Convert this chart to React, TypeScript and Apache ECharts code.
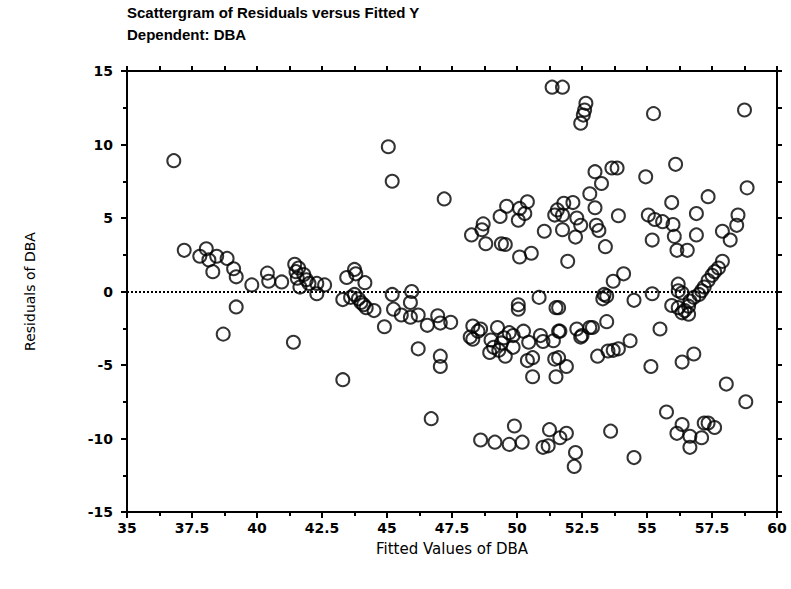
import React, { useEffect, useRef } from "react";
import * as echarts from "echarts";

const titleLines = ["Scattergram of Residuals versus Fitted Y", "Dependent: DBA"];
const xAxisName = "Fitted Values of DBA";
const yAxisName = "Residuals of DBA";
const xTickLabels = ["35", "37.5", "40", "42.5", "45", "47.5", "50", "52.5", "55", "57.5", "60"];
const yTickLabels = ["-15", "-10", "-5", "0", "5", "10", "15"];

const fitted: number[] = [
  36.8, 37.2, 37.8, 38.05, 38.15, 38.45, 38.85, 38.3, 39.1, 39.2, 39.8, 40.4, 40.45, 40.95, 41.45, 41.5, 41.55, 41.8, 41.65, 42.0, 42.3, 42.6, 42.3, 41.6, 41.9, 39.2, 38.7, 41.4, 43.3,
  43.45, 43.75, 43.8, 44.15, 43.3, 43.6, 43.75, 44.0, 44.2, 44.5, 43.9, 44.1, 44.9, 45.2, 45.95, 45.25, 45.55, 45.9, 45.9, 46.2, 46.55, 46.95, 47.05, 47.45, 46.2, 47.05, 47.05, 46.7,
  45.05, 45.2, 47.2,
  48.25, 48.7, 48.65, 48.8, 49.35, 49.4, 49.55, 49.6, 50.1, 50.4, 50.3, 50.05, 50.1, 50.55, 51.05, 51.45, 51.35, 51.75,
  52.65, 52.6, 52.55, 52.45, 55.25, 58.75,
  51.8, 52.15, 51.75, 52.3, 51.75, 52.25, 52.45, 53.05, 53.15, 53.4, 53.9, 51.95, 53.0, 53.25, 53.65, 53.85, 52.8, 53.0, 51.55,
  54.95, 56.1, 55.95, 55.05, 55.3, 55.6, 56.0, 55.2, 56.05, 56.15, 56.55, 56.9, 56.9, 57.35, 58.85, 58.5, 58.45, 57.9, 58.2,
  57.9, 57.75, 57.5, 57.35, 57.2, 57.0, 56.8, 56.65, 56.6, 56.45, 56.2, 55.95, 56.2, 56.2, 56.35, 56.6, 56.35, 57.6, 57.1,
  54.1, 53.7, 53.35, 53.3, 53.45, 54.5, 55.2, 53.45, 52.9, 52.3, 52.5, 51.6, 55.5,
  50.05, 50.05, 50.85, 51.5, 51.6,
  48.3, 48.3, 48.6, 48.2, 49.25, 49.5, 49.1, 48.95, 49.3, 49.55, 49.85, 50.25, 49.85, 50.45, 50.4, 50.6, 50.6, 50.9, 51.0, 51.4, 51.45, 51.5, 51.9, 51.6, 51.65, 52.45, 52.8, 49.7, 48.5, 49.0, 49.4,
  53.1, 53.5, 53.7, 53.9, 54.35, 55.15, 56.35, 56.8,
  48.6, 49.15, 49.7, 50.2, 49.9, 51.0, 51.2, 51.25, 51.9, 51.65, 52.25, 52.2, 53.6, 54.5, 55.75, 56.35, 56.15, 56.65, 56.65, 57.1, 57.2, 57.35, 57.6, 58.05, 58.8,
];

const residuals: number[] = [
  8.9, 2.8, 2.4, 2.9, 2.15, 2.4, 2.25, 1.35, 1.55, 1.0, 0.45, 1.25, 0.7, 0.65, 1.85, 1.35, 0.9, 1.15, 0.3, 0.55, 0.55, 0.45, -0.15, 1.6, 0.8, -1.05, -2.9, -3.45, -6.0,
  0.95, 1.5, 1.2, 0.6, -0.55, -0.4, -0.2, -0.75, -1.1, -1.3, -0.5, -0.9, -2.4, -0.2, 0.0, -1.2, -1.6, -0.75, -1.75, -1.6, -2.3, -1.65, -2.15, -2.1, -3.9, -4.4, -5.1, -8.65,
  9.85, 7.5, 6.3,
  3.85, 4.6, 4.2, 3.25, 5.1, 3.25, 3.2, 5.8, 5.65, 6.1, 5.3, 4.85, 2.35, 2.6, 4.1, 5.2, 13.9, 13.9,
  12.8, 12.35, 12.0, 11.45, 12.1, 12.35,
  6.0, 6.05, 5.2, 5.0, 4.2, 3.7, 4.5, 4.5, 4.15, 3.05, 5.15, 2.05, 8.15, 7.35, 8.4, 8.4, 6.65, 5.7, 5.55,
  7.8, 8.65, 6.05, 5.2, 4.9, 4.75, 4.55, 3.5, 3.75, 2.8, 2.8, 3.85, 5.3, 6.45, 7.05, 5.2, 4.5, 4.1, 3.5,
  2.05, 1.6, 1.1, 0.75, 0.3, -0.2, -0.4, -0.65, -1.55, -1.3, -1.1, -0.95, 0.5, 0.05, -0.1, -1.0, -1.45, 1.35, 0.05,
  1.2, 0.7, -0.2, -0.5, -0.3, -0.6, -0.15, -2.05, -2.45, -2.55, -3.0, -2.7, -2.55,
  -0.9, -1.2, -0.4, -1.1, -1.1,
  -2.35, -3.25, -2.55, -3.1, -2.45, -3.15, -3.8, -4.15, -4.0, -4.4, -3.8, -2.7, -3.0, -3.45, -4.7, -4.5, -5.8, -3.0, -3.4, -3.35, -4.6, -5.8, -5.1, -4.5, -2.7, -3.1, -2.45, -2.8, -2.7, -3.3, -3.5,
  -4.4, -4.05, -4.0, -3.9, -3.35, -5.1, -4.8, -4.25,
  -10.1, -10.25, -10.4, -10.25, -9.15, -10.6, -10.5, -9.4, -9.65, -9.95, -10.95, -11.9, -9.5, -11.3, -8.2, -9.05, -9.65, -9.85, -10.6, -9.95, -8.95, -8.95, -9.25, -6.3, -7.5,
];

const FONT = "'Liberation Sans', Arial, Helvetica, sans-serif";
const WIDE = "'DejaVu Sans', Verdana, sans-serif";

export default function App() {
  const ref = useRef<HTMLDivElement>(null);
  useEffect(() => {
    if (!ref.current) return;
    const chart = echarts.init(ref.current, undefined, { renderer: "svg" });
    const points = fitted.map((x, i) => [x, residuals[i]]);
    const axisLineStyle = { color: "#000", width: 2 };
    chart.setOption({
      animation: false,
      backgroundColor: "#fff",
      textStyle: { fontFamily: FONT },
      graphic: [
        {
          type: "text",
          left: 127,
          top: 5,
          style: { text: titleLines[0], font: `bold 15px ${FONT}`, fill: "#000" },
        },
        {
          type: "text",
          left: 127,
          top: 27,
          style: { text: titleLines[1], font: `bold 15px ${FONT}`, fill: "#000" },
        },
      ],
      grid: { left: 127, right: 14, top: 71, bottom: 77, containLabel: false },
      xAxis: [
        {
          type: "value",
          position: "bottom",
          min: 35,
          max: 60,
          interval: 2.5,
          name: xAxisName,
          nameLocation: "middle",
          nameGap: 29,
          nameTextStyle: { fontSize: 15, color: "#000", fontFamily: WIDE },
          axisLine: { show: true, onZero: false, lineStyle: axisLineStyle },
          axisTick: { show: true, inside: false, length: 6, lineStyle: { color: "#000", width: 2 } },
          minorTick: { show: true, splitNumber: 2, length: 4, lineStyle: { color: "#000", width: 2 } },
          axisLabel: {
            show: true,
            margin: 9,
            fontSize: 14,
            fontWeight: "bold",
            color: "#000",
            fontFamily: WIDE,
            formatter: (v: number) => {
              const idx = Math.round((v - 35) / 2.5);
              return xTickLabels[idx] ?? "";
            },
          },
          splitLine: { show: false },
        },
        {
          type: "value",
          position: "top",
          min: 35,
          max: 60,
          interval: 1.25,
          axisLine: { show: true, onZero: false, lineStyle: axisLineStyle },
          axisTick: { show: true, inside: false, length: 5, lineStyle: { color: "#000", width: 2 } },
          axisLabel: { show: false },
          splitLine: { show: false },
        },
      ],
      yAxis: [
        {
          type: "value",
          position: "left",
          min: -15,
          max: 15,
          interval: 5,
          name: yAxisName,
          nameLocation: "middle",
          nameGap: 90,
          nameRotate: 90,
          nameTextStyle: { fontSize: 14, color: "#000", fontFamily: WIDE },
          axisLine: { show: true, onZero: false, lineStyle: axisLineStyle },
          axisTick: { show: true, inside: false, length: 6, lineStyle: { color: "#000", width: 2 } },
          minorTick: { show: true, splitNumber: 2, length: 4, lineStyle: { color: "#000", width: 2 } },
          axisLabel: {
            show: true,
            margin: 14,
            fontSize: 14,
            fontWeight: "bold",
            color: "#000",
            fontFamily: WIDE,
            formatter: (v: number) => {
              const idx = Math.round((v + 15) / 5);
              return yTickLabels[idx] ?? "";
            },
          },
          splitLine: { show: false },
        },
        {
          type: "value",
          position: "right",
          min: -15,
          max: 15,
          interval: 2.5,
          axisLine: { show: true, onZero: false, lineStyle: axisLineStyle },
          axisTick: { show: true, inside: false, length: 5, lineStyle: { color: "#000", width: 2 } },
          axisLabel: { show: false },
          splitLine: { show: false },
        },
      ],
      series: [
        {
          type: "scatter",
          xAxisIndex: 0,
          yAxisIndex: 0,
          symbol: "circle",
          symbolSize: 13,
          itemStyle: { color: "rgba(255,255,255,0)", borderColor: "#000", borderWidth: 2 },
          data: points,
          markLine: {
            silent: true,
            symbol: "none",
            label: { show: false },
            lineStyle: { color: "#000", type: "dotted", width: 2 },
            data: [{ yAxis: 0 }],
          },
        },
      ],
    });
    return () => chart.dispose();
  }, []);
  return (
    <div
      ref={ref}
      style={{ position: "absolute", left: 0, top: 0, width: 791, height: 589 }}
    />
  );
}
